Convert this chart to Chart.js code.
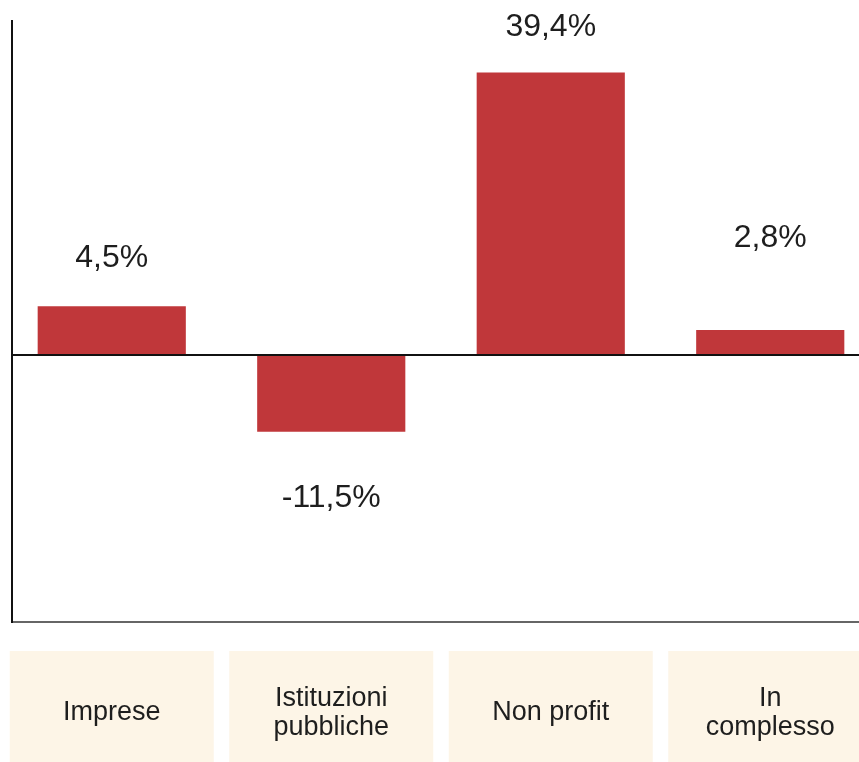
<!DOCTYPE html>
<html lang="it">
<head>
<meta charset="utf-8">
<title>Variazione per settore</title>
<script src="https://cdn.jsdelivr.net/npm/chart.js@4/dist/chart.umd.min.js"></script>
<style>
  html, body { margin: 0; padding: 0; background: #fff; overflow: hidden; }
  #wrap { position: absolute; left: 0; top: 0; width: 880px; height: 762px; }
</style>
</head>
<body>
<div id="wrap"><canvas id="grafico" width="880" height="762"></canvas></div>
<script>
// ------------------------- DATI -------------------------
const categorie = [["Imprese"], ["Istituzioni", "pubbliche"], ["Non profit"], ["In", "complesso"]];
const percentuali = [4.5, -11.5, 39.4, 2.8];          // valori stampati sulle barre
const altezzeBarre = [6.8, -10.7, 39.4, 3.5];         // lunghezza delle barre
const scalaMin = -37.2;
const scalaMax = 46.7;

const ROSSO = "#c0373a";
const CREMA = "#fdf5e7";
const TESTO = "#1e1e1e";
const FONT = "'Helvetica Neue', 'Liberation Sans', Arial, sans-serif";

function formatta(v) {
    return v.toFixed(1).replace(".", ",") + "%";
}

// etichette e riquadri delle categorie, linee degli assi
const decorazioni = {
    id: "decorazioni",
    afterDatasetsDraw(chart) {
        const ctx = chart.ctx;
        const x = chart.scales.x;
        const y = chart.scales.y;
        const area = chart.chartArea;
        const zero = y.getPixelForValue(0);
        const asseX = 12;

        ctx.save();

        // linea dello zero
        ctx.strokeStyle = "#111";
        ctx.lineWidth = 2;
        ctx.beginPath();
        ctx.moveTo(asseX, zero);
        ctx.lineTo(chart.width, zero);
        ctx.stroke();

        // asse inferiore
        ctx.strokeStyle = "#666";
        ctx.beginPath();
        ctx.moveTo(asseX, area.bottom);
        ctx.lineTo(chart.width, area.bottom);
        ctx.stroke();

        // asse verticale
        ctx.strokeStyle = "#111";
        ctx.beginPath();
        ctx.moveTo(asseX, area.top);
        ctx.lineTo(asseX, area.bottom + 1);
        ctx.stroke();

        // valori sopra / sotto le barre
        const scarto = [-48, 66, -45, -92];
        ctx.fillStyle = TESTO;
        ctx.font = "32px " + FONT;
        ctx.textAlign = "center";
        ctx.textBaseline = "middle";
        const meta = chart.getDatasetMeta(0);
        meta.data.forEach((bar, i) => {
            ctx.fillText(formatta(percentuali[i]), bar.x, bar.y + scarto[i]);
        });

        // riquadri delle categorie
        const largh = 204;
        const top = 651;
        const alt = 112;
        categorie.forEach((righe, i) => {
            const cx = x.getPixelForValue(i);
            ctx.fillStyle = CREMA;
            ctx.fillRect(cx - largh / 2, top, largh, alt);
            ctx.fillStyle = TESTO;
            ctx.font = "27px " + FONT;
            const interlinea = 29;
            const cy = top + 62;
            righe.forEach((r, j) => {
                ctx.fillText(r, cx, cy + (j - (righe.length - 1) / 2) * interlinea);
            });
        });

        ctx.restore();
    }
};

// ------------------------- GRAFICO -------------------------
new Chart(document.getElementById("grafico"), {
    type: "bar",
    data: {
        labels: categorie.map(c => c.join(" ")),
        datasets: [{
            data: altezzeBarre,
            backgroundColor: ROSSO,
            borderWidth: 0,
            barPercentage: 0.675,
            categoryPercentage: 1
        }]
    },
    options: {
        responsive: false,
        devicePixelRatio: 1,
        animation: false,
        layout: { padding: { left: 2, right: 0, top: 20, bottom: 140 } },
        plugins: {
            legend: { display: false },
            tooltip: { enabled: false }
        },
        scales: {
            x: { display: false, grid: { display: false } },
            y: { display: false, min: scalaMin, max: scalaMax, grid: { display: false } }
        }
    },
    plugins: [decorazioni]
});
</script>
</body>
</html>
